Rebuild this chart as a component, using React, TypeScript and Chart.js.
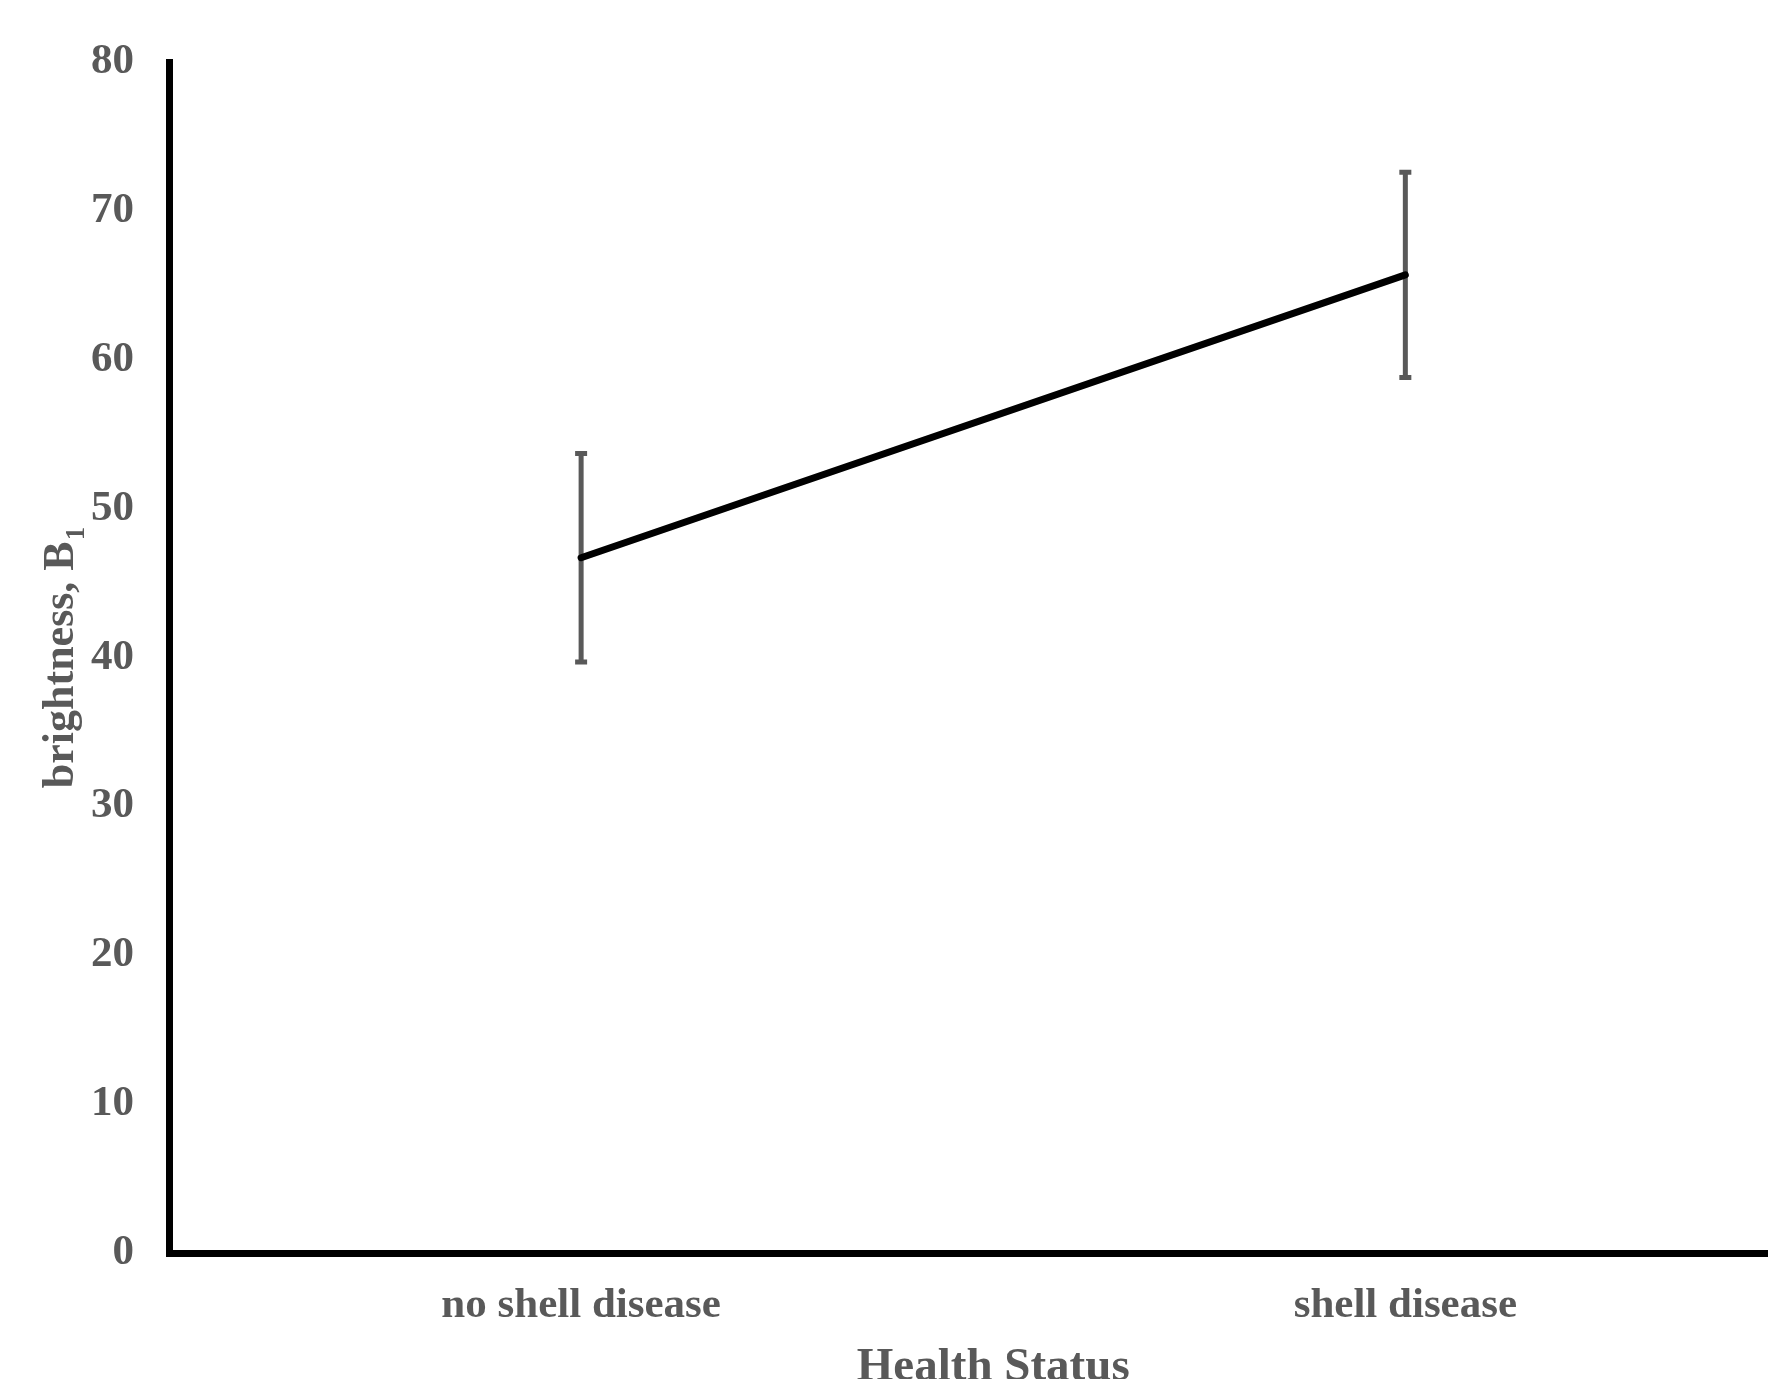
import React, { useEffect, useRef } from "react";
import { Chart, registerables } from "chart.js";

Chart.register(...registerables);

const categories = ["no shell disease", "shell disease"];
const means = [46.7, 65.7];
const errors = [7.0, 6.9];
const yMin = 0;
const yMax = 80;
const yStep = 10;
const xTitle = "Health Status";
const yTitle = "brightness, B";
const yTitleSub = "1";

const FONT = "'Liberation Serif', 'Times New Roman', serif";
const GREY = "#595959";

const errorBarPlugin = {
  id: "errorBars",
  beforeDatasetsDraw(chart: any) {
    const xs = chart.scales.x;
    const ys = chart.scales.y;
    const ctx = chart.ctx;
    ctx.save();
    ctx.strokeStyle = GREY;
    ctx.lineWidth = 5;
    ctx.lineCap = "butt";
    means.forEach((m, i) => {
      const px = xs.getPixelForValue(i);
      const top = ys.getPixelForValue(m + errors[i]);
      const bot = ys.getPixelForValue(m - errors[i]);
      ctx.beginPath();
      ctx.moveTo(px, top);
      ctx.lineTo(px, bot);
      ctx.moveTo(px - 6, top);
      ctx.lineTo(px + 6, top);
      ctx.moveTo(px - 6, bot);
      ctx.lineTo(px + 6, bot);
      ctx.stroke();
    });
    ctx.restore();
  },
};

const titlesPlugin = {
  id: "titles",
  afterDraw(chart: any) {
    const xs = chart.scales.x;
    const ctx = chart.ctx;
    ctx.save();
    ctx.fillStyle = GREY;
    // x title
    ctx.font = `bold 47px ${FONT}`;
    ctx.textAlign = "center";
    ctx.textBaseline = "alphabetic";
    ctx.fillText(xTitle, xs.getPixelForValue(0.5), chart.height + 1);
    // y title with subscript
    ctx.translate(73, 658);
    ctx.rotate(-Math.PI / 2);
    ctx.textAlign = "left";
    ctx.font = `bold 44px ${FONT}`;
    const w1 = ctx.measureText(yTitle).width;
    ctx.font = `bold 27px ${FONT}`;
    const w2 = ctx.measureText(yTitleSub).width;
    const start = -(w1 + w2) / 2;
    ctx.font = `bold 44px ${FONT}`;
    ctx.fillText(yTitle, start, 0);
    ctx.font = `bold 27px ${FONT}`;
    ctx.fillText(yTitleSub, start + w1 + 1, 11);
    ctx.restore();
  },
};

export default function App() {
  const ref = useRef<HTMLCanvasElement | null>(null);
  useEffect(() => {
    if (!ref.current) return;
    const chart = new Chart(ref.current, {
      type: "line",
      data: {
        datasets: [
          {
            data: categories.map((_, i) => ({ x: i, y: means[i] })),
            borderColor: "#000000",
            borderWidth: 7,
            borderCapStyle: "round",
            borderJoinStyle: "round",
            pointRadius: 0,
            pointHoverRadius: 0,
            tension: 0,
            fill: false,
          },
        ],
      },
      options: {
        responsive: false,
        animation: false,
        events: [],
        layout: { padding: { top: 62, left: 0, right: 0, bottom: 0 } },
        plugins: { legend: { display: false }, tooltip: { enabled: false } },
        scales: {
          x: {
            type: "linear",
            min: -0.5,
            max: 1.44,
            afterBuildTicks: (axis: any) => {
              axis.ticks = categories.map((_, i) => ({ value: i }));
            },
            afterFit: (scale: any) => {
              scale.height = 126;
            },
            grid: { display: false, drawTicks: false },
            border: { display: true, color: "#000000", width: 7 },
            ticks: {
              autoSkip: false,
              maxRotation: 0,
              padding: 27,
              color: GREY,
              font: { family: FONT, size: 43, weight: "bold" },
              callback: (v: any) => categories[v as number] ?? "",
            },
          },
          y: {
            min: yMin,
            max: yMax,
            afterFit: (scale: any) => {
              scale.width = 169;
            },
            grid: { display: false, drawTicks: false },
            border: { display: true, color: "#000000", width: 7 },
            ticks: {
              stepSize: yStep,
              padding: 35,
              color: GREY,
              font: { family: FONT, size: 43, weight: "bold" },
            },
          },
        },
      },
      plugins: [errorBarPlugin, titlesPlugin],
    } as any);
    return () => chart.destroy();
  }, []);
  return (
    <div style={{ position: "fixed", left: 0, top: 0, width: 1768, height: 1379, background: "#fff" }}>
      <canvas ref={ref} width={1768} height={1379} style={{ display: "block" }} />
    </div>
  );
}
